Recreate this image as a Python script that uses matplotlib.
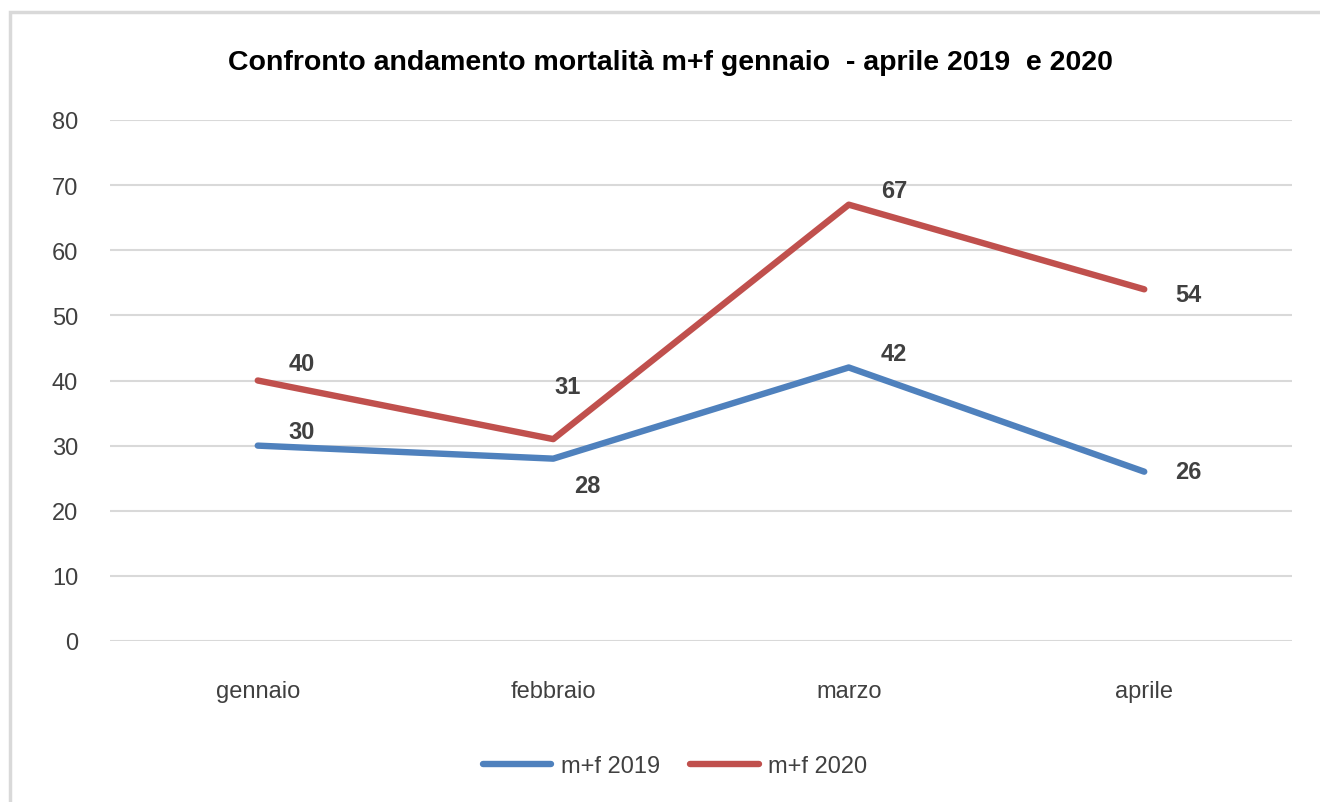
import matplotlib.pyplot as plt
from matplotlib.patches import Rectangle

# data
months = ['gennaio', 'febbraio', 'marzo', 'aprile']
mf_2019 = [30, 28, 42, 26]
mf_2020 = [40, 31, 67, 54]

BLUE = '#4F81BD'
RED = '#C0504D'
TXT = '#404040'

plt.rcParams['font.family'] = ['Liberation Sans', 'DejaVu Sans']

fig = plt.figure(figsize=(13.2, 8.03), dpi=100)

# outer chart frame (light grey border, open to the right/bottom)
fig.patches.append(Rectangle((10 / 1320, -0.1), 1.2, (803 - 13) / 803 + 0.1,
                             transform=fig.transFigure, fill=False,
                             edgecolor='#D9D9D9', linewidth=2.5))

ax = fig.add_axes([110 / 1320, 1 - 642 / 803, 1182 / 1320, 521 / 803])
x = range(len(months))
ax.plot(x, mf_2019, color=BLUE, linewidth=4.6, solid_joinstyle='round',
        solid_capstyle='round', label='m+f 2019', zorder=3)
ax.plot(x, mf_2020, color=RED, linewidth=4.6, solid_joinstyle='round',
        solid_capstyle='round', label='m+f 2020', zorder=3)

# data labels, offsets in pixels
off_2019 = [(44, 14), (34, -27), (45, 14), (44, 0)]
off_2020 = [(44, 17), (14, 53), (45, 14), (44, -5)]
for i, (v, o) in enumerate(zip(mf_2019, off_2019)):
    ax.annotate(str(v), (i, v), xytext=o, textcoords='offset pixels',
                ha='center', va='center', fontsize=17, fontweight='bold',
                color=TXT)
for i, (v, o) in enumerate(zip(mf_2020, off_2020)):
    ax.annotate(str(v), (i, v), xytext=o, textcoords='offset pixels',
                ha='center', va='center', fontsize=17, fontweight='bold',
                color=TXT)

ax.set_xlim(-0.5, 3.5)
ax.set_ylim(0, 80)
ax.set_yticks(range(0, 81, 10))
ax.set_xticks(list(x))
ax.set_xticklabels(months)
ax.grid(axis='y', color='#D9D9D9', linewidth=1.5)
ax.set_axisbelow(True)
for s in ax.spines.values():
    s.set_visible(False)
ax.tick_params(axis='both', length=0, labelsize=17, labelcolor=TXT)
ax.tick_params(axis='y', pad=23)
ax.tick_params(axis='x', pad=28)

fig.text(670 / 1320, 1 - 63 / 803,
         'Confronto andamento mortalità m+f gennaio  - aprile 2019  e 2020',
         ha='center', va='center', fontsize=20.5, fontweight='bold', color='black')

fig.legend(loc='center', bbox_to_anchor=(675 / 1320, 1 - 767 / 803), ncol=2,
           frameon=False, fontsize=17, handlelength=2.9, handletextpad=0.4,
           columnspacing=1.3, labelcolor=TXT)

fig.savefig('out.png', dpi=100)
